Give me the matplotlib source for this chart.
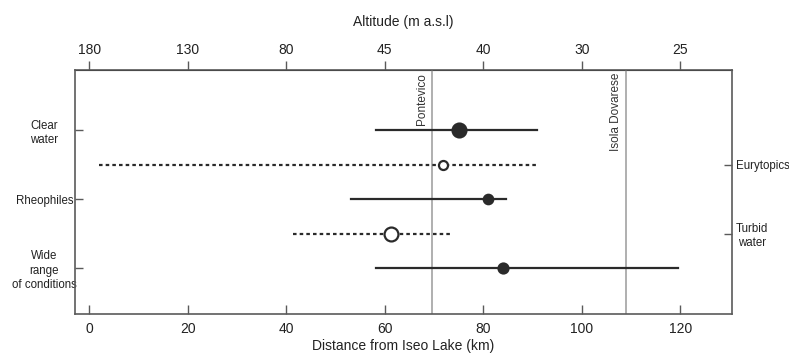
import numpy as np
import matplotlib
matplotlib.use("Agg")
import matplotlib.pyplot as plt

plt.rcParams['font.family'] = ['Liberation Sans', 'DejaVu Sans']

# rows drawn top to bottom
rows = [5, 4, 3, 2, 1]
range_lo = [58.3, 2.0, 53.2, 41.4, 58.3]
range_hi = [90.9, 90.7, 84.7, 73.6, 119.6]
centre = [75.1, 71.9, 81.0, 61.2, 84.1]
filled = [True, False, True, False, True]
marker_size = [10.0, 6.5, 6.8, 10.0, 7.2]

left_rows = [5, 3, 1]
left_labels = ["Clear\nwater", "Rheophiles", "Wide\nrange\nof conditions"]
right_rows = [4, 2]
right_labels = ["Eurytopics", "Turbid\nwater"]

dist_ticks = [0, 20, 40, 60, 80, 100, 120]
alt_labels = ["180", "130", "80", "45", "40", "30", "25"]

towns = ["Pontevico", "Isola Dovarese"]
town_km = [69.6, 109.0]

dark = "#2a2a2a"
spine_c = "#5a5a5a"

fig = plt.figure(figsize=(7.89, 3.54), dpi=100)
ax = fig.add_axes([75 / 789, 1 - 314 / 354, (732 - 75) / 789, (314 - 70) / 354])

for x, name in zip(town_km, towns):
    ax.axvline(x, color="#9a9a9a", lw=1.1, zorder=1)
    ax.text(x - 0.9, 6.66, name, rotation=90, ha="right", va="top",
            fontsize=8.5, color="#333333")

for y, lo, hi, c, f, ms in zip(rows, range_lo, range_hi, centre, filled, marker_size):
    ls = "-" if f else (0, (1.6, 1.4))
    ax.plot([lo, hi], [y, y], color=dark, lw=1.6, ls=ls, zorder=2)
    ax.plot(c, y, "o", ms=ms, mfc=dark if f else "white", mec=dark,
            mew=1.6, zorder=3)

ax.set_xlim(-2.9, 130.5)
ax.set_ylim(-0.33, 6.74)

for s in ax.spines.values():
    s.set_color(spine_c)
    s.set_linewidth(1.2)

ax.set_xticks(dist_ticks)
ax.tick_params(axis="x", direction="in", length=6.5, width=1.0, color=spine_c,
               labelsize=10, labelcolor="#222222", pad=6)
ax.set_xlabel("Distance from Iseo Lake (km)", fontsize=10, color="#222222",
              labelpad=2)

ax.set_yticks(left_rows, left_labels)
ax.tick_params(axis="y", direction="in", length=5.5, width=1.0, color=spine_c,
               labelsize=8.3, labelcolor="#222222", pad=22)
for t in ax.get_yticklabels():
    t.set_horizontalalignment("center")
    t.set_multialignment("center")
    t.set_linespacing(1.25)

top = ax.secondary_xaxis("top")
top.set_xticks(dist_ticks, alt_labels)
top.tick_params(direction="out", length=6.5, width=1.0, color=spine_c,
                labelsize=10, labelcolor="#222222", pad=3)
top.set_xlabel("Altitude (m a.s.l)", fontsize=10, color="#222222", labelpad=12)

right = ax.secondary_yaxis("right")
right.set_yticks(right_rows, right_labels)
right.tick_params(direction="in", length=5.5, width=1.0, color=spine_c,
                  labelsize=8.3, labelcolor="#222222", pad=3)
for t in right.get_yticklabels():
    t.set_multialignment("center")
    t.set_linespacing(1.25)
right.spines["right"].set_visible(False)

fig.savefig("out.png", dpi=100, facecolor="white")
